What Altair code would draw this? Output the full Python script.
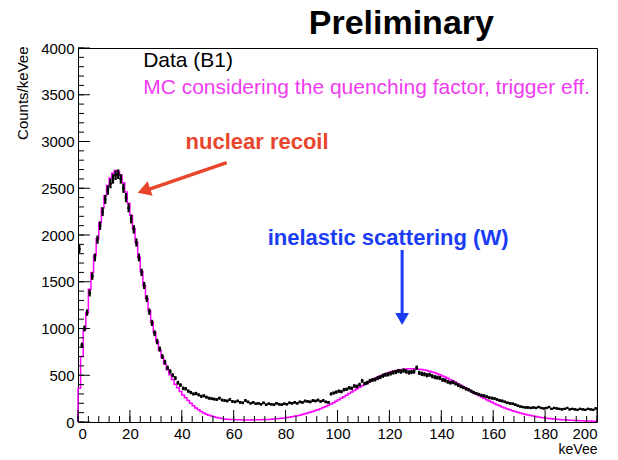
import altair as alt
import pandas as pd

# ---------------- data (1 keVee bins) ----------------
bin_lo = list(range(200))

data_counts = [
    1850, 820, 1000, 1170, 1380, 1560, 1760, 1950, 2100, 2250,
    2380, 2480, 2550, 2600, 2640, 2650, 2600, 2500, 2400, 2290,
    2170, 2060, 1920, 1760, 1600, 1460, 1320, 1180, 1060, 950,
    860, 780, 700, 640, 580, 540, 500, 470, 420, 395,
    360, 355, 330, 315, 300, 305, 290, 275, 280, 265,
    255, 250, 245, 240, 255, 235, 230, 225, 240, 220,
    215, 225, 210, 205, 230, 215, 200, 210, 195, 200,
    190, 205, 185, 195, 190, 185, 200, 190, 185, 195,
    190, 205, 200, 210, 200, 215, 210, 225, 220, 215,
    230, 225, 235, 220, 230, 215, 210, 300, 310, 320,
    330, 325, 345, 350, 365, 360, 385, 380, 400, 440,
    410, 420, 440, 450, 455, 470, 480, 495, 505, 510,
    520, 530, 535, 545, 540, 550, 540, 530, 535, 540,
    580, 525, 515, 510, 500, 505, 490, 480, 475, 470,
    450, 445, 430, 420, 425, 410, 395, 380, 370, 355,
    345, 330, 315, 305, 295, 285, 280, 270, 260, 255,
    250, 240, 230, 225, 215, 205, 200, 195, 185, 175,
    165, 160, 155, 155, 150, 155, 150, 160, 150, 145,
    150, 160, 140, 150, 145, 140, 135, 140, 150, 135,
    140, 135, 130, 140, 135, 130, 140, 135, 130, 145,
]

mc_counts = [
    360, 700, 990, 1170, 1420, 1600, 1780, 1960, 2130, 2290,
    2420, 2530, 2610, 2660, 2690, 2680, 2640, 2560, 2460, 2340,
    2210, 2070, 1920, 1760, 1610, 1460, 1320, 1190, 1070, 960,
    860, 770, 690, 620, 560, 505, 455, 405, 365, 325,
    290, 260, 230, 200, 175, 150, 130, 112, 96, 83,
    72, 63, 55, 48, 42, 37, 33, 30, 28, 26,
    25, 24, 23, 23, 22, 22, 22, 23, 23, 24,
    25, 26, 27, 28, 30, 32, 34, 37, 40, 43,
    47, 51, 56, 61, 67, 73, 80, 88, 96, 104,
    113, 122, 132, 143, 154, 166, 178, 192, 206, 221,
    237, 253, 270, 287, 304, 321, 338, 355, 372, 389,
    405, 421, 436, 451, 465, 479, 492, 504, 515, 525,
    534, 542, 549, 555, 560, 564, 567, 569, 570, 570,
    568, 565, 561, 556, 550, 543, 535, 526, 516, 505,
    493, 480, 467, 453, 439, 424, 409, 394, 378, 362,
    346, 330, 314, 298, 283, 268, 253, 239, 225, 211,
    198, 185, 173, 161, 150, 140, 130, 120, 111, 103,
    95, 88, 81, 75, 69, 63, 58, 53, 49, 45,
    41, 38, 35, 32, 29, 27, 25, 23, 21, 19,
    18, 16, 15, 14, 13, 12, 11, 10, 9, 9,
]

x_major = [0, 20, 40, 60, 80, 100, 120, 140, 160, 180, 200]
x_minor = list(range(0, 201, 4))
y_major = [0, 500, 1000, 1500, 2000, 2500, 3000, 3500, 4000]
y_minor = list(range(0, 4001, 100))

legend_text = ["Data (B1)", "MC considering the quenching factor, trigger eff."]
legend_x = [25.1, 25.1]
legend_y = [3860, 3570]
legend_color = ["#000000", "#f03cf0"]

title_text = ["Preliminary"]
title_x = [124.6]
title_y = [4150]

nr_text = ["nuclear recoil"]
nr_x = [69.0]
nr_y = [2995]
nr_arrow_x = [57.3, 25.6]
nr_arrow_y = [2775, 2472]
nr_head_x = [25.4]
nr_head_y = [2474]

in_text = ["inelastic scattering (W)"]
in_x = [119.5]
in_y = [1968]
in_arrow_x = [124.9, 124.9]
in_arrow_y = [1840, 1110]
in_head_x = [124.9]
in_head_y = [1102]

# ---------------- chart ----------------
W, H = 519, 374
FONT = "Liberation Sans"
xs = alt.Scale(domain=[0, 200], nice=False, zero=False)
ys = alt.Scale(domain=[0, 4000], nice=False)

hist = pd.DataFrame({
    "lo": bin_lo,
    "hi": [b + 1 for b in bin_lo],
    "data": data_counts,
})

mc_df = pd.DataFrame({
    "x": [0] + bin_lo + [200],
    "y": [0] + mc_counts + [mc_counts[-1]],
    "o": list(range(len(bin_lo) + 2)),
})

x_axis = alt.Axis(values=x_major, format="d", ticks=False, tickSize=0, domain=False, grid=False,
                  labelFont=FONT, labelFontSize=15, labelColor="black", labelPadding=4,
                  title="keVee", titleFont=FONT, titleFontSize=14, titleFontWeight="normal",
                  titleColor="black", titleAnchor="end", titleAlign="right",
                  titleX=W, titleY=31, titleBaseline="alphabetic")
y_axis = alt.Axis(values=y_major, format="d", ticks=False, tickSize=0, domain=False, grid=False,
                  labelFont=FONT, labelFontSize=15, labelColor="black", labelPadding=4,
                  title="Counts/keVee", titleFont=FONT, titleFontSize=15,
                  titleFontWeight="normal", titleColor="black", titleAnchor="end",
                  titleAngle=270, titleAlign="right", titleX=-56, titleY=-2,
                  titleBaseline="middle")


def X(field):
    return alt.X(field, scale=xs, axis=x_axis)


def Y(field):
    return alt.Y(field, scale=ys, axis=y_axis)


mc_line = alt.Chart(mc_df).mark_line(
    interpolate="step-after", color="#ff00ff", strokeWidth=1.5
).encode(x=X("x:Q"), y=Y("y:Q"), order="o:Q")

data_h = alt.Chart(hist).mark_rule(color="black", strokeWidth=2.2).encode(
    x=X("lo:Q"), x2="hi:Q", y=Y("data:Q"))

data_v = alt.Chart(hist).transform_calculate(
    c="datum.lo + 0.5",
    ylo="datum.data - sqrt(datum.data)",
    yhi="datum.data + sqrt(datum.data)",
).mark_rule(color="black", strokeWidth=2.2).encode(
    x=X("c:Q"), y=Y("ylo:Q"), y2="yhi:Q")

ymaj = alt.Chart(pd.DataFrame({"v": y_major})).mark_rule(color="black", strokeWidth=1).encode(
    y=Y("v:Q"), x=alt.value(0), x2=alt.value(12))
ymin = alt.Chart(pd.DataFrame({"v": y_minor})).mark_rule(color="black", strokeWidth=1).encode(
    y=Y("v:Q"), x=alt.value(0), x2=alt.value(6))
xmaj = alt.Chart(pd.DataFrame({"v": x_major})).mark_rule(color="black", strokeWidth=1).encode(
    x=X("v:Q"), y=alt.value(H), y2=alt.value(H - 12))
xmin = alt.Chart(pd.DataFrame({"v": x_minor})).mark_rule(color="black", strokeWidth=1).encode(
    x=X("v:Q"), y=alt.value(H), y2=alt.value(H - 6))

legend = alt.Chart(pd.DataFrame({"t": legend_text, "x": legend_x, "y": legend_y, "c": legend_color})).mark_text(
    align="left", baseline="middle", font=FONT, fontSize=21
).encode(
    x=X("x:Q"), y=Y("y:Q"), text="t:N",
    color=alt.Color("c:N", scale=None),
)

title = alt.Chart(pd.DataFrame({"t": title_text, "x": title_x, "y": title_y})).mark_text(
    align="center", baseline="alphabetic", font=FONT, fontSize=34, fontWeight="bold", color="black"
).encode(x=X("x:Q"), y=Y("y:Q"), text="t:N")

RED = "#e8452c"
BLUE = "#1a3cf5"

nr_label = alt.Chart(pd.DataFrame({"t": nr_text, "x": nr_x, "y": nr_y})).mark_text(
    align="center", baseline="middle", font=FONT, fontSize=22, fontWeight="bold", color=RED
).encode(x=X("x:Q"), y=Y("y:Q"), text="t:N")
nr_shaft = alt.Chart(pd.DataFrame({"x": nr_arrow_x, "y": nr_arrow_y})).mark_line(
    color=RED, strokeWidth=3.5
).encode(x=X("x:Q"), y=Y("y:Q"))
nr_head = alt.Chart(pd.DataFrame({"x": nr_head_x, "y": nr_head_y})).mark_point(
    shape="triangle-up", filled=True, size=230, angle=251, color=RED, opacity=1
).encode(x=X("x:Q"), y=Y("y:Q"))

in_label = alt.Chart(pd.DataFrame({"t": in_text, "x": in_x, "y": in_y})).mark_text(
    align="center", baseline="middle", font=FONT, fontSize=22, fontWeight="bold", color=BLUE
).encode(x=X("x:Q"), y=Y("y:Q"), text="t:N")
in_shaft = alt.Chart(pd.DataFrame({"x": in_arrow_x, "y": in_arrow_y})).mark_line(
    color=BLUE, strokeWidth=3
).encode(x=X("x:Q"), y=Y("y:Q"))
in_head = alt.Chart(pd.DataFrame({"x": in_head_x, "y": in_head_y})).mark_point(
    shape="triangle-up", filled=True, size=190, angle=180, color=BLUE, opacity=1
).encode(x=X("x:Q"), y=Y("y:Q"))

chart = alt.layer(
    mc_line, ymin, ymaj, xmin, xmaj, data_h, data_v,
    legend, title, nr_label, nr_shaft, nr_head, in_label, in_shaft, in_head,
).properties(
    width=W, height=H,
    autosize=alt.AutoSizeParams(type="none"),
    padding={"left": 70, "top": 40, "right": 13, "bottom": 34},
    background="white",
).configure_view(stroke="black", strokeWidth=1)

chart.save("out.html", embed_options={"renderer": "svg", "actions": False})
